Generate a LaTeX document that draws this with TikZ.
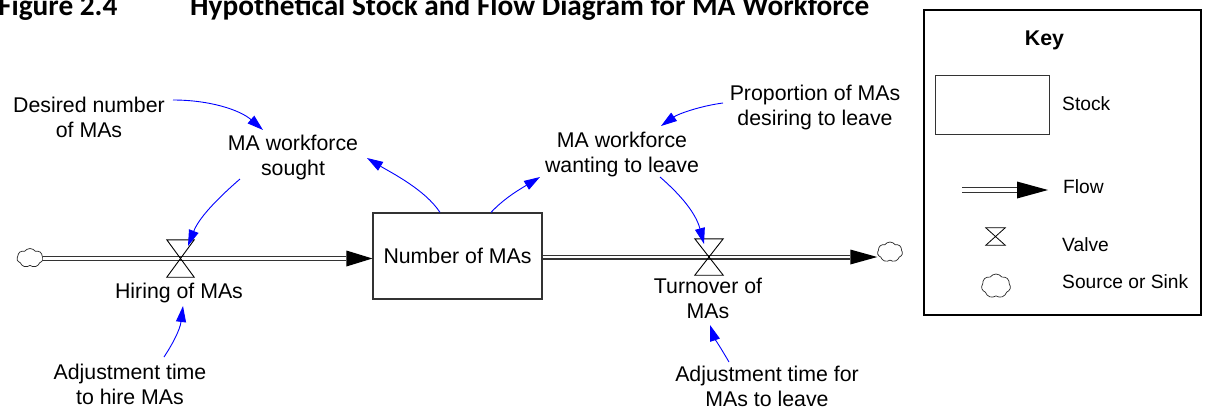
\documentclass[tikz,border=0pt]{standalone}
\usepackage{fontspec}
\setmainfont{Liberation Sans}
\newfontfamily\titlefont{Carlito}
\usetikzlibrary{arrows.meta,shapes.symbols,calc}

\begin{document}
\begin{tikzpicture}[x=1pt,y=-1pt,
  varname/.style={font=\fontsize{21.3}{25}\selectfont, align=center, anchor=base, inner sep=0pt},
  keytext/.style={font=\fontsize{19.2}{23}\selectfont, anchor=base west, inner sep=0pt},
  heading/.style={font=\titlefont\bfseries\fontsize{29.3}{32}\selectfont, anchor=base west, inner sep=0pt},
  pipe/.style={draw=black!80, line width=1.2pt, double=white, double distance=2.6pt},
  stockbox/.style={draw=black!80, line width=1.2pt, inner sep=0pt},
  valve/.style={inner sep=0pt, minimum width=27pt, minimum height=37pt},
  hourglass/.style={draw=black, line width=0.9pt, line join=miter},
  blob/.style={cloud, cloud puffs=7, cloud puff arc=110, draw=black!85, line width=0.7pt,
               inner sep=0pt, minimum width=26pt, minimum height=19pt},
  link/.style={draw=blue, line width=0.9pt, -{Triangle[length=16pt,width=10pt]}},
]
\useasboundingbox (0,0) rectangle (1205,408);

% heading
\node[heading] (fig) at (-2,15.5) {Figure 2.4};
\node[heading] (title) at (190,15.5) {Hypothetical Stock and Flow Diagram for MA Workforce};

% stock, valves, source and sink
\node[stockbox, minimum width=169pt, minimum height=86pt, font=\fontsize{21.3}{25}\selectfont]
  (stock) at (457.5,256) {Number of MAs};
\node[valve] (hirev) at (180.5,258.5) {};
\node[valve, minimum width=28pt, minimum height=36pt] (turnv) at (709,257) {};
\node[blob] (src) at (30,258) {};
\node[blob, minimum width=25pt, minimum height=20pt] (sink) at (890,252) {};

% flow pipes with their heads
\draw[pipe] (src.east |- hirev) -- ($(stock.west |- hirev)+(-26,0)$);
\fill (stock.west |- hirev) -- ++(-26,-8) -- ++(0,16) -- cycle;
\draw[pipe] (stock.east |- turnv) -- ($(sink.west |- turnv)+(-27,0)$);
\fill (sink.west |- turnv) -- ++(-27,-7.5) -- ++(0,15) -- cycle;

% valve symbols
\draw[hourglass] (hirev.north west) -- (hirev.north east) -- (hirev.south west) -- (hirev.south east) -- cycle;
\draw[hourglass] (turnv.north west) -- (turnv.north east) -- (turnv.south west) -- (turnv.south east) -- cycle;

% auxiliary variables (base = baseline of the last line)
\node[varname] (desired) at (89,137) {Desired number\\of MAs};
\node[varname] (sought) at (293,175) {MA workforce\\sought};
\node[varname] (wanting) at (622,172) {MA workforce\\wanting to leave};
\node[varname] (proportion) at (815,125) {Proportion of MAs\\desiring to leave};
\node[varname] (hiring) at (179,298) {Hiring of MAs};
\node[varname] (adjhire) at (130,404) {Adjustment time\\to hire MAs};
\node[varname] (turnover) at (708,318) {Turnover of\\MAs};
\node[varname] (adjleave) at (767,406) {Adjustment time for\\MAs to leave};

% causal links
\draw[link] ($(desired.base)+(84,-37)$) .. controls +(37,0) and +(-23,-20) .. ($(sought.base)+(-30,-45)$);
\draw[link] ($(stock.north)+(-17.5,0)$) .. controls +(-15,-23) and +(23,14) .. ($(sought.base)+(74,-17)$);
\draw[link] ($(stock.north)+(33.5,0)$) .. controls +(14,-15) and +(-18,11) .. ($(wanting.base)+(-82,5)$);
\draw[link] ($(proportion.base)+(-92,-22)$) .. controls +(-23,3) and +(17,-12) .. ($(wanting.base)+(39,-46)$);
\draw[link] ($(sought.base)+(-53,4)$) .. controls +(-15,13) and +(12,-31) .. ($(hirev.center)+(7.5,-12.5)$);
\draw[link] ($(wanting.base)+(38,5)$) .. controls +(15,13) and +(-9,-34) .. ($(turnv.center)+(-5,-13)$);
\draw[link] ($(adjhire.base)+(34,-47)$) .. controls +(8,-12) and +(-3,24) .. ($(hiring.base)+(4,8)$);
\draw[link] ($(adjleave.base)+(-38,-44)$) .. controls +(-7,-12) and +(4,12) .. ($(turnover.base)+(2,7)$);

% key
\node[draw=black, line width=1.5pt, minimum width=277pt, minimum height=305pt, inner sep=0pt]
  (keybox) at (1062.5,162.5) {};
\node[font=\bfseries\fontsize{21.3}{25}\selectfont, anchor=base, inner sep=0pt] (keytitle) at (1044.5,45) {Key};
\node[stockbox, line width=1pt, minimum width=114pt, minimum height=59pt] (kstock) at (992,104.5) {};
\node[keytext] (kstocktext) at (1062,110) {Stock};
\coordinate (kf0) at (962,190);
\coordinate (kf1) at (1048,190);
\draw[pipe, line width=1pt, double distance=4.5pt] (kf0) -- ($(kf1)+(-31,0)$);
\fill (kf1) -- ++(-31,-8.5) -- ++(0,17) -- cycle;
\node[keytext] (kflowtext) at (1063,193) {Flow};
\node[valve, minimum width=19pt, minimum height=17pt] (kvalve) at (995.5,236.5) {};
\draw[hourglass, line width=0.8pt] (kvalve.north west) -- (kvalve.north east) -- (kvalve.south west) -- (kvalve.south east) -- cycle;
\node[keytext] (kvalvetext) at (1062,251) {Valve};
\node[blob, minimum width=29pt, minimum height=24pt] (kcloud) at (996,286) {};
\node[keytext] (kcloudtext) at (1062,288) {Source or Sink};
\end{tikzpicture}
\end{document}
